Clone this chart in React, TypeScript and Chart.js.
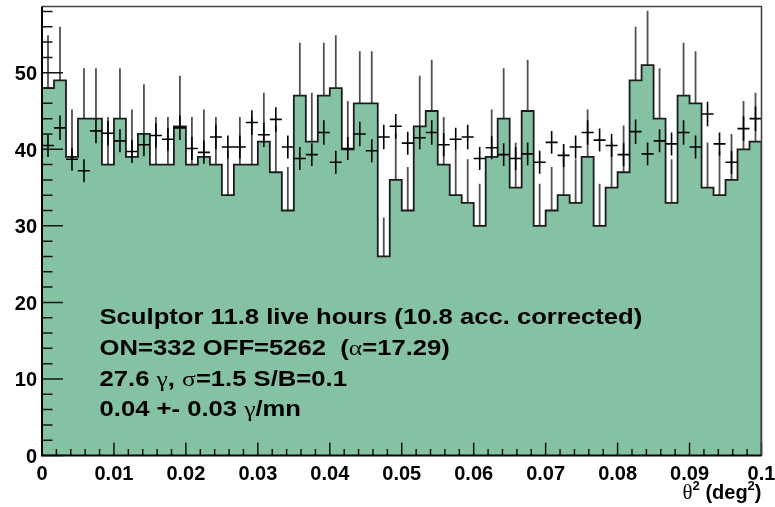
import React, { useEffect, useRef } from 'react';
import { Chart, registerables } from 'chart.js';

Chart.register(...registerables);

// theta^2 binning (deg^2)
const thetaMin = 0;
const thetaMax = 0.1;
const nBins = 60;

// ON counts per bin (filled histogram)
const onCounts = [
  48, 49, 39, 44, 44, 38, 44, 39, 42, 38,
  38, 43, 38, 39, 38, 34, 38, 38, 41, 37,
  32, 47, 41, 47, 48, 40, 46, 46, 26, 36,
  32, 43, 45, 38, 34, 33, 30, 39, 44, 35,
  45, 30, 32, 34, 33, 39, 30, 35, 37, 49,
  51, 44, 33, 47, 46, 35, 34, 36, 40, 41,
];

// ON statistical errors
const onErrors = [
  6.9, 7.0, 6.2, 6.6, 6.6, 6.2, 6.6, 6.2, 6.5, 6.2,
  6.2, 6.6, 6.2, 6.2, 6.2, 5.8, 6.2, 6.2, 6.4, 6.1,
  5.7, 6.9, 6.4, 6.9, 6.9, 6.3, 6.8, 6.8, 5.1, 6.0,
  5.7, 6.6, 6.7, 6.2, 5.8, 5.7, 5.5, 6.2, 6.6, 5.9,
  6.7, 5.5, 5.7, 5.8, 5.7, 6.2, 5.5, 5.9, 6.1, 7.0,
  7.1, 6.6, 5.7, 6.9, 6.8, 5.9, 5.8, 6.0, 6.3, 6.4,
];

// normalised OFF (crosses)
const offNorm = [
  40.5, 42.8, 38.7, 37.2, 42.4, 42.1, 41.1, 39.7, 40.6, 41.8,
  41.3, 42.8, 40.1, 39.6, 41.6, 40.3, 40.3, 43.5, 41.9, 43.9,
  40.3, 38.8, 39.3, 42.2, 38.3, 40.1, 42.0, 39.8, 41.6, 43.0,
  40.8, 41.5, 42.2, 40.6, 41.3, 41.6, 38.8, 40.2, 39.3, 38.8,
  39.4, 38.3, 40.9, 39.2, 40.3, 42.2, 41.2, 40.5, 39.3, 42.3,
  39.4, 41.1, 40.7, 42.2, 40.3, 44.6, 40.7, 38.3, 42.7, 44.0,
];

const offErrors = [
  1.5, 1.6, 1.5, 1.5, 1.6, 1.6, 1.5, 1.5, 1.5, 1.6,
  1.5, 1.6, 1.5, 1.5, 1.6, 1.5, 1.5, 1.6, 1.6, 1.6,
  1.5, 1.5, 1.5, 1.6, 1.5, 1.5, 1.6, 1.5, 1.6, 1.6,
  1.5, 1.5, 1.6, 1.5, 1.5, 1.6, 1.5, 1.5, 1.5, 1.5,
  1.5, 1.5, 1.5, 1.5, 1.5, 1.6, 1.5, 1.5, 1.5, 1.6,
  1.5, 1.5, 1.5, 1.6, 1.5, 1.6, 1.5, 1.5, 1.6, 1.6,
];

const xTicks = [0, 0.01, 0.02, 0.03, 0.04, 0.05, 0.06, 0.07, 0.08, 0.09, 0.1];
const xTickLabels = ['0', '0.01', '0.02', '0.03', '0.04', '0.05', '0.06', '0.07', '0.08', '0.09', '0.1'];
const yTicks = [0, 10, 20, 30, 40, 50];
const yTickLabels = ['0', '10', '20', '30', '40', '50'];
const yMax = 58.65;

type Seg = { t: string; g?: boolean };
const infoLines: Seg[][] = [
  [{ t: 'Sculptor 11.8 live hours (10.8 acc. corrected)' }],
  [{ t: 'ON=332 OFF=5262  (' }, { t: 'α', g: true }, { t: '=17.29)' }],
  [{ t: '27.6 ' }, { t: 'γ', g: true }, { t: ', ' }, { t: 'σ', g: true }, { t: '=1.5 S/B=0.1' }],
  [{ t: '0.04 +- 0.03 ' }, { t: 'γ', g: true }, { t: '/mn' }],
];

const FILL = '#85C2A4';
const SANS = '"Liberation Sans", Arial, Helvetica, sans-serif';
const SERIF = '"Liberation Serif", "DejaVu Serif", serif';

const decor = {
  id: 'decor',
  afterDraw(chart: any) {
    const { ctx, chartArea: a } = chart;
    const x = chart.scales.x;
    const y = chart.scales.y;
    ctx.save();

    // tick marks (inside)
    ctx.strokeStyle = '#151515';
    ctx.lineWidth = 1.5;
    ctx.beginPath();
    for (let k = 0; k <= 50; k++) {
      const px = x.getPixelForValue(k * 0.002);
      const len = k % 5 === 0 ? 13 : 6.5;
      ctx.moveTo(px, a.bottom);
      ctx.lineTo(px, a.bottom - len);
    }
    for (let k = 0; k * 2 <= yMax; k++) {
      const py = y.getPixelForValue(k * 2);
      const len = k % 5 === 0 ? 21 : 10.5;
      ctx.moveTo(a.left, py);
      ctx.lineTo(a.left + len, py);
    }
    ctx.stroke();

    // frame
    ctx.strokeStyle = '#444';
    ctx.lineWidth = 1.6;
    ctx.beginPath();
    ctx.moveTo(a.left, a.top);
    ctx.lineTo(a.right, a.top);
    ctx.lineTo(a.right, a.bottom);
    ctx.stroke();
    ctx.strokeStyle = '#000';
    ctx.lineWidth = 2;
    ctx.beginPath();
    ctx.moveTo(a.left, a.top);
    ctx.lineTo(a.left, a.bottom);
    ctx.lineTo(a.right, a.bottom);
    ctx.stroke();

    // info text
    ctx.fillStyle = '#000';
    ctx.textBaseline = 'alphabetic';
    ctx.textAlign = 'left';
    const baselines = [324, 355, 386, 416];
    const sx = 1.165;
    infoLines.forEach((line, i) => {
      ctx.save();
      ctx.translate(99.5, baselines[i]);
      ctx.scale(sx, 1);
      let cx = 0;
      for (const s of line) {
        ctx.font = s.g ? `22px ${SERIF}` : `bold 22px ${SANS}`;
        ctx.fillText(s.t, cx, 0);
        cx += ctx.measureText(s.t).width;
      }
      ctx.restore();
    });

    // axis title: θ² (deg²)
    const parts = [
      { t: 'θ', f: `21px ${SERIF}`, dy: 0 },
      { t: '2', f: `bold 13px ${SANS}`, dy: -9 },
      { t: ' (deg', f: `bold 20px ${SANS}`, dy: 0 },
      { t: '2', f: `bold 13px ${SANS}`, dy: -9 },
      { t: ')', f: `bold 20px ${SANS}`, dy: 0 },
    ];
    let total = 0;
    for (const p of parts) {
      ctx.font = p.f;
      total += ctx.measureText(p.t).width;
    }
    let cx = a.right - total;
    for (const p of parts) {
      ctx.font = p.f;
      ctx.fillText(p.t, cx, 499 + p.dy);
      cx += ctx.measureText(p.t).width;
    }
    ctx.restore();
  },
};

export default function App() {
  const ref = useRef<HTMLCanvasElement | null>(null);

  useEffect(() => {
    document.body.style.margin = '0';
    const canvas = ref.current;
    if (!canvas) return;
    const bw = (thetaMax - thetaMin) / nBins;

    // step outline ('before': horizontal at the previous value, then vertical step)
    const histPts: { x: number; y: number }[] = [{ x: thetaMin, y: 0 }];
    onCounts.forEach((v, i) => histPts.push({ x: thetaMin + i * bw, y: v }));
    histPts.push({ x: thetaMax, y: onCounts[onCounts.length - 1] });
    histPts.push({ x: thetaMax, y: 0 });

    const onErrPts: { x: number; y: number | null }[] = [];
    onCounts.forEach((v, i) => {
      const c = thetaMin + (i + 0.5) * bw;
      onErrPts.push({ x: c, y: v - onErrors[i] }, { x: c, y: v + onErrors[i] }, { x: c, y: null });
    });

    const crossPts: { x: number; y: number | null }[] = [];
    offNorm.forEach((v, i) => {
      const lo = thetaMin + i * bw;
      const c = lo + 0.5 * bw;
      crossPts.push({ x: lo, y: v }, { x: lo + bw, y: v }, { x: c, y: null });
      crossPts.push({ x: c, y: v - offErrors[i] }, { x: c, y: v + offErrors[i] }, { x: c, y: null });
    });

    const chart = new Chart(canvas, {
      type: 'line',
      data: {
        datasets: [
          {
            label: 'ON errors',
            data: onErrPts as any,
            borderColor: '#505050',
            borderWidth: 1.8,
            pointRadius: 0,
            fill: false,
            spanGaps: false,
            order: 3,
          },
          {
            label: 'ON',
            data: histPts as any,
            stepped: 'before',
            borderColor: '#1c1c1c',
            borderWidth: 1.8,
            backgroundColor: FILL,
            fill: 'origin',
            pointRadius: 0,
            order: 2,
          },
          {
            label: 'OFF normalised',
            data: crossPts as any,
            borderColor: '#000',
            borderWidth: 1.6,
            pointRadius: 0,
            fill: false,
            spanGaps: false,
            order: 1,
          },
        ],
      },
      options: {
        animation: false,
        responsive: false,
        devicePixelRatio: 1,
        layout: { padding: { top: 6.5, right: 13.5, left: 0, bottom: 0 } },
        plugins: {
          legend: { display: false },
          tooltip: { enabled: false },
          title: { display: false },
        },
        scales: {
          x: {
            type: 'linear',
            min: thetaMin,
            max: thetaMax,
            grid: { display: false, drawTicks: false },
            border: { display: false },
            afterBuildTicks: (s: any) => {
              s.ticks = xTicks.map((v) => ({ value: v }));
            },
            afterFit: (s: any) => {
              s.height = 51.5;
              s.paddingLeft = 0;
              s.paddingRight = 0;
            },
            ticks: {
              autoSkip: false,
              maxRotation: 0,
              padding: 6.5,
              color: '#000',
              font: { family: SANS, size: 20, weight: 'bold' },
              callback: (_v: any, i: number) => xTickLabels[i],
            },
          },
          y: {
            type: 'linear',
            min: 0,
            max: yMax,
            grid: { display: false, drawTicks: false },
            border: { display: false },
            afterBuildTicks: (s: any) => {
              s.ticks = yTicks.map((v) => ({ value: v }));
            },
            afterFit: (s: any) => {
              s.width = 42;
              s.paddingTop = 0;
              s.paddingBottom = 0;
            },
            ticks: {
              autoSkip: false,
              padding: 5,
              labelOffset: 2,
              color: '#000',
              font: { family: SANS, size: 20, weight: 'bold' },
              callback: (_v: any, i: number) => yTickLabels[i],
            },
          },
        },
      },
      plugins: [decor],
    });
    return () => chart.destroy();
  }, []);

  return (
    <canvas ref={ref} width={775} height={507} style={{ display: 'block', width: 775, height: 507 }} />
  );
}
